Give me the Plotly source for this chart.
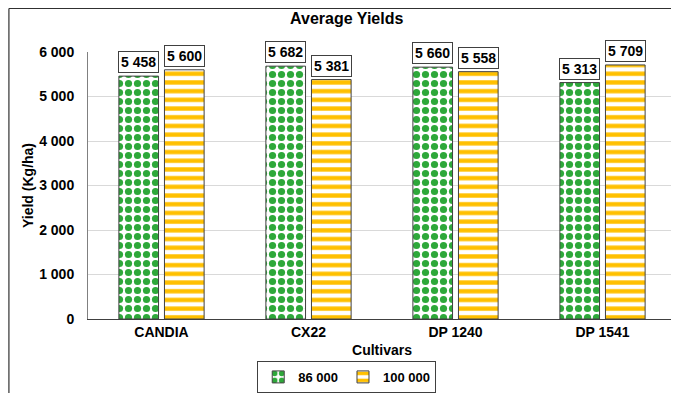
import plotly.graph_objects as go

cultivars = ["CANDIA", "CX22", "DP 1240", "DP 1541"]
series_names = ["86 000", "100 000"]
yield_86000 = [5458, 5682, 5660, 5313]
yield_100000 = [5600, 5381, 5558, 5709]
y_ticks = [0, 1000, 2000, 3000, 4000, 5000, 6000]

GREEN = "#2EA83A"
ORANGE = "#FFC000"
FONT = "Liberation Sans"

fig = go.Figure()
fig.add_trace(go.Bar(
    x=cultivars, y=yield_86000, name=series_names[0],
    marker=dict(color="white",
                line=dict(color="#404040", width=1),
                pattern=dict(shape=".", fgcolor=GREEN, bgcolor="white",
                             size=9, solidity=0.5, fillmode="replace")),
))
fig.add_trace(go.Bar(
    x=cultivars, y=yield_100000, name=series_names[1],
    marker=dict(color="white",
                line=dict(color="#404040", width=1),
                pattern=dict(shape="-", fgcolor=ORANGE, bgcolor="white",
                             size=8.7, solidity=0.5, fillmode="replace")),
))

bargap = 0.38
offset = (1 - bargap) / 4

def fmt(v):
    return f"{v:,}".replace(",", " ")

for i, (a, b) in enumerate(zip(yield_86000, yield_100000)):
    for val, dx in ((a, -offset), (b, offset)):
        fig.add_annotation(
            x=i + dx, y=val, xref="x", yref="y", text=fmt(val),
            showarrow=False, yanchor="bottom", yshift=3,
            font=dict(family=FONT, size=14, color="black", weight="bold"),
            bgcolor="white", bordercolor="#404040", borderwidth=1, borderpad=2,
        )

# outer chart frame: top and left edges
frame = dict(color="#303030", width=1.2)
fig.add_shape(type="line", xref="paper", yref="paper",
              x0=-0.1345, x1=1.2, y0=1.163, y1=1.163, line=frame)
fig.add_shape(type="line", xref="paper", yref="paper",
              x0=-0.1345, x1=-0.1345, y0=-0.5, y1=1.163, line=frame)

fig.update_layout(
    width=671, height=385,
    margin=dict(l=80, r=3, t=44, b=74, autoexpand=False),
    paper_bgcolor="white", plot_bgcolor="white",
    separators=". ",
    barmode="group", bargap=bargap, bargroupgap=0.13,
    font=dict(family=FONT, color="black"),
    title=dict(text="Average Yields", x=0.44, xref="paper", xanchor="center",
               y=1 - 10 / 385, yref="container", yanchor="middle",
               font=dict(family=FONT, size=16, color="black", weight="bold")),
    xaxis=dict(
        title=dict(text="Cultivars", standoff=6,
                   font=dict(family=FONT, size=14, weight="bold")),
        tickfont=dict(family=FONT, size=14, weight="bold"),
        showline=True, linecolor="#404040", linewidth=1,
        ticks="", showgrid=False, automargin=False,
    ),
    yaxis=dict(
        title=dict(text="Yield (Kg/ha)", standoff=2,
                   font=dict(family=FONT, size=14, weight="bold")),
        tickfont=dict(family=FONT, size=14, weight="bold"),
        range=[0, 6000], tickvals=y_ticks, tickformat=",d",
        showline=True, linecolor="#808080", linewidth=1,
        gridcolor="#D9D9D9", gridwidth=1, zeroline=False, ticks="",
        ticklabelstandoff=10, automargin=False,
    ),
    legend=dict(orientation="h", x=0.44, xanchor="center", y=-0.277, yanchor="bottom",
                bordercolor="#404040", borderwidth=1, bgcolor="white",
                itemwidth=30, tracegroupgap=0,
                font=dict(family=FONT, size=13, weight="bold")),
)

fig.write_html("out.html")
